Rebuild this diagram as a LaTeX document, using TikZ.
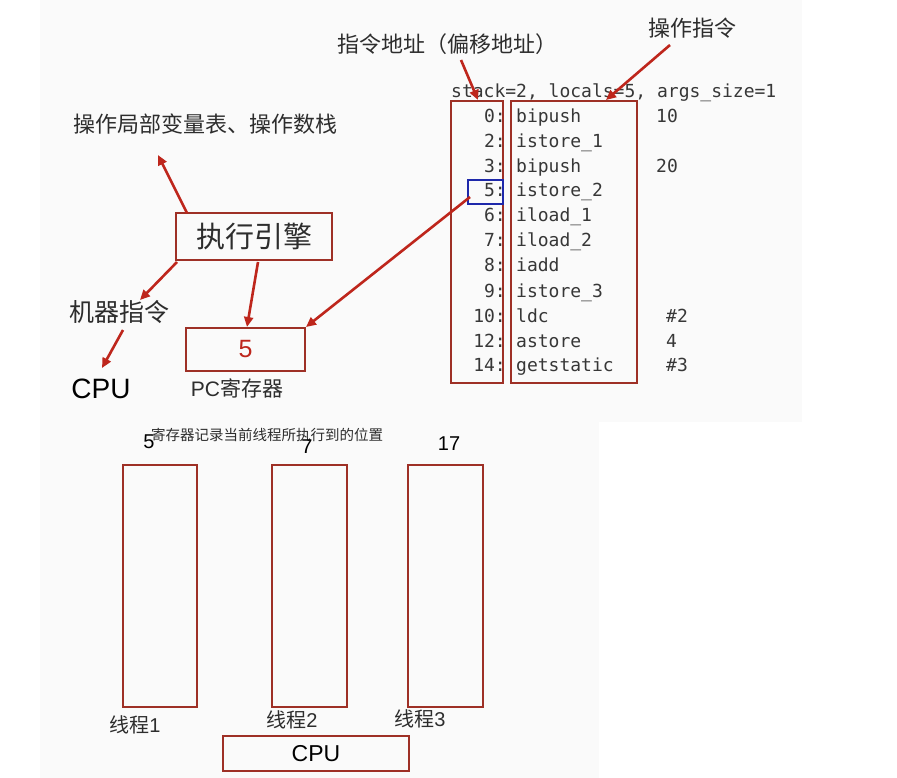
\documentclass[tikz,border=0pt]{standalone}
\usepackage{fontspec}
\setmainfont{Liberation Sans}
\newfontfamily\cjkf{Noto Sans CJK SC}
\newfontfamily\monof{DejaVu Sans Mono}
\usetikzlibrary{arrows.meta}
\definecolor{boxred}{RGB}{158,48,38}
\definecolor{arrred}{RGB}{190,38,28}
\definecolor{txtgray}{RGB}{45,45,45}
\definecolor{codegray}{RGB}{55,55,55}
\definecolor{pcblue}{RGB}{30,40,170}
\definecolor{bgpaper}{RGB}{250,250,250}
\newcommand{\fs}[1]{\fontsize{#1}{#1}\selectfont}
\begin{document}
\begin{tikzpicture}[x=1pt,y=-1pt,
  redbox/.style={draw=boxred,line width=2pt,rectangle,inner sep=0pt},
  redarrow/.style={draw=arrred,line width=2.6pt,-{Triangle[length=10pt,width=9pt]}},
  cjklabel/.style={font=\cjkf\fs{#1},text=txtgray,inner sep=0pt},
  code/.style={font=\monof\fs{18},text=codegray,inner sep=0pt},
  sanslabel/.style={font=\fs{#1},text=black,inner sep=0pt}]
\useasboundingbox (0,0) rectangle (897,778);
\fill[white] (0,0) rectangle (897,778);
\fill[bgpaper] (40,0) rectangle (802,422);
\fill[bgpaper] (40,422) rectangle (599,778);

% top labels
\node[cjklabel=22] (addrlbl) at (447,44) {指令地址（偏移地址）};
\node[cjklabel=22] (oplbl) at (692,28) {操作指令};
\node[cjklabel=22] (stacklbl) at (205,124) {操作局部变量表、操作数栈};
\node[cjklabel=25] (mclbl) at (119,312) {机器指令};
\node[sanslabel=28] (cpu1) at (101,389) {CPU};

% execution engine
\node[redbox,minimum width=156pt,minimum height=47pt,font=\cjkf\fs{29},text=txtgray] (engine) at (254,236.5) {执行引擎};
% PC register
\node[redbox,minimum width=119pt,minimum height=43pt,font=\fs{25},text=arrred] (pc) at (245.5,349.5) {5};
\node[font=\fs{21},text=txtgray,inner sep=0pt] (pclbl) at (237,388) {PC{\cjkf 寄存器}};

% bytecode listing
\node[code,anchor=base west] (hdr) at (451,98) {stack=2, locals=5, args\_size=1};
\foreach \o/\ins/\arg/\ax/\y [count=\k] in {0/bipush/10/656/117,2/istore\_1//656/142,3/bipush/20/656/167,5/istore\_2//656/191,6/iload\_1//656/216,7/iload\_2//656/241,8/iadd//656/266,9/istore\_3//656/291,10/ldc/\#2/666/316,12/astore/4/666/341,14/getstatic/\#3/666/365}{
  \node[code,anchor=base east] (off\k) at (506,\y+6) {\o:};
  \node[code,anchor=base west] (ins\k) at (516,\y+6) {\ins};
  \node[code,anchor=base west] (arg\k) at (\ax,\y+6) {\arg};
}
\node[redbox,minimum width=52pt,minimum height=282pt] (offbox) at (477,242) {};
\node[redbox,minimum width=126pt,minimum height=282pt] (insbox) at (573.5,242) {};
\node[draw=pcblue,line width=1.6pt,rectangle,inner sep=0pt,minimum width=35pt,minimum height=24pt] (cur) at (485.5,192) {};

% arrow endpoints
\coordinate (eTL) at (187,213);
\coordinate (tipStack) at (158,155);
\coordinate (eBL) at (177,262);
\coordinate (tipMc) at (140,300);
\coordinate (eB) at (258,262);
\coordinate (pcTop) at (247,327);
\coordinate (mcB) at (123,330);
\coordinate (tipCpu) at (102,368);
\coordinate (curL) at (470,197);
\coordinate (pcTR) at (306,327);
\coordinate (addrS) at (461,60);
\coordinate (addrT) at (478,100);
\coordinate (opS) at (670,45);
\coordinate (opT) at (606,100);

\draw[redarrow] (eTL) -- (tipStack);
\draw[redarrow] (eBL) -- (tipMc);
\draw[redarrow] (eB) -- (pcTop);
\draw[redarrow] (mcB) -- (tipCpu);
\draw[redarrow] (curL) -- (pcTR);
\draw[redarrow] (addrS) -- (addrT);
\draw[redarrow] (opS) -- (opT);

% threads
\node[cjklabel=14.5] (note) at (267,435) {寄存器记录当前线程所执行到的位置};
\node[sanslabel=20] (n1) at (149,442) {5};
\node[sanslabel=20] (n2) at (307,447) {7};
\node[sanslabel=20] (n3) at (449,444) {17};
\node[redbox,minimum width=74pt,minimum height=242pt] (t1) at (160,586) {};
\node[redbox,minimum width=75pt,minimum height=242pt] (t2) at (309.5,586) {};
\node[redbox,minimum width=75pt,minimum height=242pt] (t3) at (445.5,586) {};
\node[cjklabel=20] (l1) at (135,725) {线程{\fontspec{Liberation Sans}1}};
\node[cjklabel=20] (l2) at (292,720) {线程{\fontspec{Liberation Sans}2}};
\node[cjklabel=20] (l3) at (420,719) {线程{\fontspec{Liberation Sans}3}};
\node[redbox,minimum width=186pt,minimum height=35pt,font=\fs{23}] (cpu2) at (316,753.5) {CPU};
\end{tikzpicture}
\end{document}
